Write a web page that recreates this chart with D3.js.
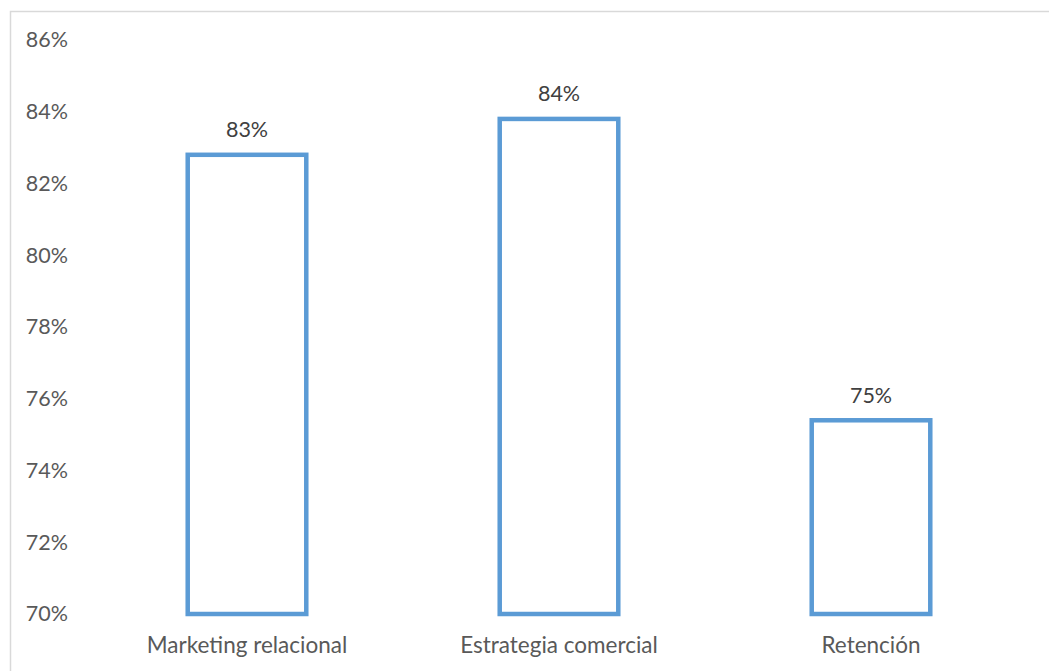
<!DOCTYPE html>
<html><head><meta charset="utf-8">
<script src="https://cdn.jsdelivr.net/npm/d3@7"></script>
<style>body{margin:0;background:#fff}svg{display:block}</style>
</head><body>
<script>
const categories = ["Marketing relacional", "Estrategia comercial", "Retención"];
const values = [0.828, 0.838, 0.754];
const valueLabels = ["83%", "84%", "75%"];
const yTicks = [0.70, 0.72, 0.74, 0.76, 0.78, 0.80, 0.82, 0.84, 0.86];

const W = 1049, H = 671;
const svg = d3.select("body").append("svg").attr("width", W).attr("height", H);
svg.append("rect").attr("x", 10.5).attr("y", 11.5).attr("width", W + 20).attr("height", H + 20)
  .attr("fill", "#fff").attr("stroke", "#d9d9d9").attr("stroke-width", 1.5);

const x = d3.scaleBand().domain(categories).range([91, 1027]).paddingInner(0.62).paddingOuter(0.31);
const y = d3.scaleLinear().domain([0.70, 0.86]).range([614, 40]);

const font = "Lato, 'Open Sans', sans-serif";
const yAxis = d3.axisLeft(y).tickValues(yTicks).tickFormat(d3.format(".0%")).tickSize(0).tickPadding(0);
const gy = svg.append("g").attr("transform", "translate(68,0)").call(yAxis);
gy.select(".domain").remove();
gy.selectAll("text").attr("fill", "#595959").style("font-family", font).style("font-size", "21.5px");

const xAxis = d3.axisBottom(x).tickSize(0).tickPadding(0);
const gx = svg.append("g").attr("transform", "translate(0,632)").call(xAxis);
gx.select(".domain").remove();
gx.selectAll("text").attr("y", 21).attr("dy", 0)
  .attr("fill", "#595959").style("font-family", font).style("font-size", "22.5px");

svg.selectAll("rect.bar").data(values).join("rect").attr("class", "bar")
  .attr("x", (d, i) => x(categories[i]))
  .attr("width", x.bandwidth())
  .attr("y", d => y(d))
  .attr("height", d => y(0.70) - y(d))
  .attr("fill", "#fff").attr("stroke", "#5b9bd5").attr("stroke-width", 4.5);

svg.selectAll("text.lbl").data(values).join("text").attr("class", "lbl")
  .attr("x", (d, i) => x(categories[i]) + x.bandwidth() / 2)
  .attr("y", d => y(d) - 17.5)
  .attr("text-anchor", "middle")
  .attr("fill", "#404040").style("font-family", font).style("font-size", "21.5px")
  .text((d, i) => valueLabels[i]);
</script>
</body></html>
